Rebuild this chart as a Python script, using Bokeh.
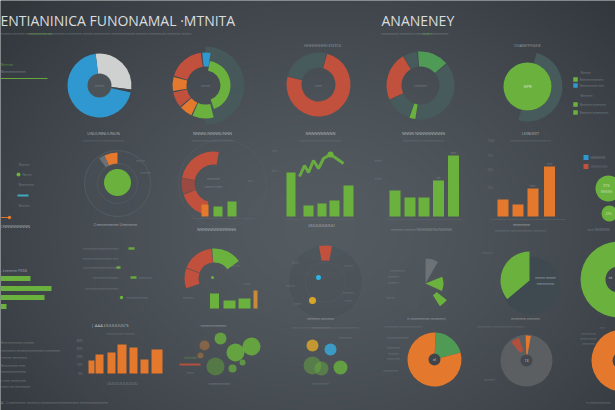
import numpy as np
from bokeh.plotting import figure
from bokeh.models import Range1d, ColumnDataSource
from bokeh.embed import file_html
from bokeh.resources import INLINE
from bokeh.core.properties import value

W, H = 615, 410

# ---------------- data ----------------
title_main = "ENTIANINICA FUNONAMAL \u00b7MTNITA"
title_right = "ANANENEY"

pie1_values = [29, 1.5, 69.5]                 # gray, notch, blue (percent)
donut2_values = [4.7, 18.6, 7.5, 8.3, 6.9, 11.1]  # blue, red, orange, red, orange, green
donut2_inner_values = [41.7]
donut3_values = [75, 25]
donut4_values = [15.3, 38.3, 3.3, 12.5, 23.6, 6.9]
pie5_arc_values = [50]
legend5_labels = ["Nnnnnnnnnnnn", "Nnnnnnnnn nnn", "Nnnnnn nnnnnnn", "Nnnnnn nnnnnnnn"]

ring6_values = [7, 3]
donut7_values = [25, 8.3, 15.3]
donut7_bars = [12, 10, 15]
greenbars8_values = [44, 11, 13, 16, 31]
greenline8_values = [40, 51, 44, 56, 48, 58, 62, 58, 53]
greenbars9_values = [26, 19, 19, 36, 61]
orangebars10_values = [17, 12, 28, 50]
orangebars10_ticks = ["1000", "750", "500", "250"]
bubble11_labels = ["37%", "22%"]
legend11_labels = ["HHHHHH", "HHHHHHH"]

hbars_values = [30, 51, 44, 6]
orangebars12_values = [13, 19, 21, 29, 26, 14, 24]
orangebars12_ticks = ["40%", "30%", "20%", "10%", "0%"]
gauge_values = [16.7, 18.0, 11.1]
gauge_bars = [15, 8, 10, 18]
wedge14_values = [5.6]
fan_values = [13, 8.3, 5.5]
bigpie_values = [36.1, 63.9]
orangepie_values = [20.3, 79.7]
graypie_values = [3.3, 6.1]

bub1_x = [220, 235, 251, 215, 232, 242, 204, 200]
bub1_y = [338, 352, 346, 366, 368, 362, 345, 355]
bub1_r = [6, 9, 9, 9, 4, 3, 5, 3]
bub2_x = [312, 330, 312, 321, 340]
bub2_y = [345, 349, 365, 368, 367]
bub2_r = [6, 6, 9, 7, 7]

# ---------------- style ----------------
BLUE = "#2f98d0"
LGRAY = "#cfd1d1"
RED = "#c1503c"
DRED = "#9a4a40"
ORANGE = "#e4792e"
GREEN = "#6ab23d"
DGREEN = "#4f9a55"
TEAL = "#475a5c"
TXT = "#aeb4b9"
FONT = "Open Sans"

p = figure(width=W, height=H, x_range=Range1d(0, W), y_range=Range1d(0, H),
           output_backend="svg", toolbar_location=None, min_border=0,
           x_axis_location=None, y_axis_location=None)
p.grid.visible = False
p.outline_line_color = None
p.background_fill_color = "#41484e"
p.border_fill_color = "#41484e"


def Y(y):
    return H - y


# background vignette
gh, gw = 205, 308
rr, cc = np.mgrid[0:gh, 0:gw]
xd = (cc + 0.5) / gw * W
yd = H - (rr + 0.5) / gh * H
d = np.sqrt(((xd - 320) / 370) ** 2 + ((yd - 230) / 290) ** 2)
t = np.clip(d, 0, 1.25) / 1.25
t = t ** 1.5
c0 = np.array([84, 91, 97])
c1 = np.array([44, 49, 54])
img = np.empty((gh, gw), dtype=np.uint32)
view = img.view(dtype=np.uint8).reshape((gh, gw, 4))
for k in range(3):
    view[:, :, k] = (c0[k] + (c1[k] - c0[k]) * t).astype(np.uint8)
view[:, :, 3] = 255
p.image_rgba(image=[img], x=0, y=0, dw=W, dh=H)


def ring(cx, cy, r_in, r_out, vals, colors, start, clockwise=True, gap=0.0, alpha=1.0):
    a = start
    s, e = [], []
    for v in vals:
        span = v / 100.0 * 360.0
        if clockwise:
            a0, a1 = a - span, a
            a -= span
        else:
            a0, a1 = a, a + span
            a += span
        s.append(np.radians(a0 + gap))
        e.append(np.radians(a1 - gap))
    src = ColumnDataSource(dict(x=[cx] * len(s), y=[Y(cy)] * len(s), s=s, e=e, c=list(colors)))
    if r_in <= 0:
        p.wedge('x', 'y', radius=r_out, start_angle='s', end_angle='e', fill_color='c',
                line_color=None, fill_alpha=alpha, source=src)
    else:
        p.annular_wedge('x', 'y', inner_radius=r_in, outer_radius=r_out, start_angle='s',
                        end_angle='e', fill_color='c', line_color=None, fill_alpha=alpha, source=src)


def disc(cx, cy, r, color, alpha=1.0, line=None):
    p.circle(x=[cx], y=[Y(cy)], radius=r, fill_color=color, fill_alpha=alpha,
             line_color=line, line_alpha=0.6 if line else 1.0)


texts = {}


def T(x, y, s, size=4.0, color=TXT, align="center", alpha=0.75, style="normal"):
    key = (size, color, align, alpha, style)
    dd = texts.setdefault(key, dict(x=[], y=[], t=[]))
    dd['x'].append(x)
    dd['y'].append(Y(y))
    dd['t'].append(s)


def vbars(xs, vals, bottom, width, color, alpha=1.0):
    p.vbar(x=xs, top=[Y(bottom) + v for v in vals], bottom=Y(bottom), width=width,
           fill_color=color, line_color=None, fill_alpha=alpha)


def hline(x0, x1, y, color="#5d666d", w=1, alpha=0.7):
    p.segment(x0=[x0], y0=[Y(y)], x1=[x1], y1=[Y(y)], line_color=color, line_width=w, line_alpha=alpha)


# ---------------- titles ----------------
T(0, 20, title_main, size=14, color="#e4e7e9", align="left", alpha=0.95)
T(0, 33, "nnnnnn nnnnnn nnnnnnnnnnn nnnnnnnnn nnnnnnnn nnnnn nnnnnnnnn nnnnnnnnnnnn nnnnnn nnnnnnnnn nnnnnnn nnnnn", size=3.2, align="left", alpha=0.5)
T(28, 33, "nnnnnnnnnnnn", size=3.2, color=GREEN, align="left", alpha=0.8)
T(381, 20, title_right, size=14, color="#e4e7e9", align="left", alpha=0.95)
T(381, 33, "nnnnnnnnn nnnnnnn nnnnnnnn nnnnnnnnn", size=3.2, align="left", alpha=0.5)
T(422, 33, "nnnnn", size=3.2, color=GREEN, align="left", alpha=0.8)

# left mini legend
T(0, 64, "Nnnnn", size=4, color=GREEN, align="left")
T(0, 71, "Nnnnnnnnnn", size=4, align="left", alpha=0.6)
hline(0, 47, 78, color=GREEN, w=1.2, alpha=0.9)

# ---------------- row 1 ----------------
ring(99, 85, 0, 32, pie1_values, [LGRAY, "#3e464c", BLUE], 97, clockwise=True)
disc(99, 85, 12, "#4b5358")
T(99, 85, "nnnnn", size=3, alpha=0.5)

ring(205, 85, 19, 39, [50], [TEAL], 90, clockwise=True, alpha=0.85)
ring(205, 85, 19, 33, donut2_values, [BLUE, RED, ORANGE, RED, ORANGE, GREEN], 80, clockwise=False, gap=1.2)
ring(205, 85, 15, 25, donut2_inner_values, [GREEN], 80, clockwise=True)
T(205, 85, "nnnnn", size=3, alpha=0.5)

ring(318, 84, 17, 32, donut3_values, [RED, TEAL], 75, clockwise=True, gap=0.8)
T(318, 85, "nnnn", size=3, alpha=0.5)
T(322, 45, "HHHHHHHH EISTCS", size=4, alpha=0.8)

ring(420, 85, 19, 34, donut4_values, [DGREEN, TEAL, GREEN, TEAL, RED, TEAL], 95, clockwise=True, gap=0.8)
T(420, 85, "nnnnnnn", size=3, alpha=0.5)

ring(527, 86, 24, 35, pie5_arc_values, [TEAL], 75, clockwise=True)
disc(527, 86, 24, GREEN)
T(527, 86, "GPR", size=4, color="#eef2ee", alpha=0.9)
T(527, 45, "CHANIIYFIGEIE", size=4, alpha=0.8)
for yy_, col, lab in zip([79, 85, 104, 112], [GREEN, BLUE, GREEN, GREEN], legend5_labels):
    p.rect(x=[575], y=[Y(yy_)], width=4.5, height=4.5, fill_color=col, line_color=None)
    T(579, yy_, lab, size=3.2, align="left", alpha=0.55)
T(580, 72, "Nnnnn", size=3.2, align="left", alpha=0.5)
T(580, 95, "Nnnnnn", size=3.2, align="left", alpha=0.5)

for xx_, lab in zip([103, 212, 320, 423, 530],
                    ["UNUUNNUUNUN", "NNNNUNNNNUNNN", "NNNNNNNNNN", "NNNN NNNNNNNNNN", "LEINIIIIIIT"]):
    T(xx_, 133, lab, size=4, color="#c3c7ca", alpha=0.85)
    T(xx_, 140, "nnnnnnnnnn nnnnnnnnnnnn", size=3, alpha=0.35)

# ---------------- row 2 ----------------
T(18, 164, "Nnnnn", size=3.5, align="left", alpha=0.5)
disc(18, 174, 2, GREEN)
T(22, 174, "Nnnn", size=3.5, align="left", alpha=0.5)
T(18, 184, "Nnnnnnn", size=3.5, align="left", alpha=0.5)
hline(17, 28, 195, color="#3bb5c9", w=2, alpha=0.9)
T(18, 205, "Nnnnn", size=3.5, align="left", alpha=0.5)
hline(0, 9, 217, color=ORANGE, w=1.2, alpha=0.9)
disc(9, 217, 1.8, ORANGE)
T(0, 226, "CNNNNNNNNN", size=4, color="#c9cdd0", align="left", alpha=0.8)

# ring chart with green core
disc(117, 183, 33, "#474f55", alpha=0.6, line="#5d666d")
p.circle(x=[117], y=[Y(183)], radius=20, fill_color=None, line_color="#5b646b", line_alpha=0.5)
ring(117, 183, 20, 31, ring6_values, [ORANGE, "#6a7075"], 90, clockwise=False)
disc(117, 182, 13.5, GREEN)
T(140, 160, "nnnnn", size=3, alpha=0.4)
T(145, 172, "nnnnnn", size=3, alpha=0.4)
T(115, 224, "Cnnnnnnnnn Unnnnnn", size=4, color="#c3c7ca", alpha=0.8)

# red donut with bars
p.circle(x=[222], y=[Y(183)], radius=44, fill_color=None, line_color="#5a636b", line_alpha=0.45)
ring(213, 183, 19, 32, donut7_values, [RED, DRED, RED], 80, clockwise=False, gap=0.5)
p.vbar(x=[204.5, 217.5, 231.5], top=[Y(216) + v for v in donut7_bars], bottom=Y(216),
       width=[7, 9, 9], fill_color=[ORANGE, GREEN, GREEN], line_color=None)
T(213, 178, "nnnnnnn", size=3, alpha=0.5)
T(213, 186, "nnnnn nnnn", size=3, alpha=0.5)
T(250, 180, "nnn", size=3, alpha=0.4)
hline(192, 255, 218, alpha=0.5)
T(216, 229, "NNNNNNNNNNNNN", size=4, color="#c3c7ca", alpha=0.8)

# green bars with line
p.vbar(x=[290.5, 308, 321.5, 334, 348], top=[Y(216) + v for v in greenbars8_values],
       bottom=Y(216), width=[9, 10, 9, 10, 10], fill_color=GREEN, line_color=None)
line_x = [299, 304, 308, 313, 318, 323, 330, 336, 343]
p.line(x=line_x, y=[Y(216) + v for v in greenline8_values], line_color=GREEN, line_width=3, line_alpha=0.9)
disc(330, 154, 3, GREEN)
T(274, 150, "nnn", size=3, alpha=0.4)
T(274, 170, "nnn", size=3, alpha=0.4)
hline(283, 355, 219, alpha=0.5)
T(321, 225, "UUUUUUUUU", size=4, color="#d0d4d6", alpha=0.85)

# green bars
vbars([394.5, 409.5, 423.5, 438, 453], greenbars9_values, 216, 11, GREEN)
T(453, 152, "nnn", size=3, alpha=0.5)
T(438, 177, "nn", size=3, alpha=0.5)
T(378, 160, "nnnn", size=3, alpha=0.4)
T(378, 178, "nnnn", size=3, alpha=0.4)
hline(385, 462, 219, alpha=0.5)
T(421, 229, "nnnnnn nnnnn NNNNNNNN/NNNNN", size=3.5, alpha=0.6)

# orange bars
vbars([502.5, 517.5, 532.5, 549], orangebars10_values, 216, 11, ORANGE)
for yy_, lab in zip([140, 155, 169, 187], orangebars10_ticks):
    T(487, yy_, lab, size=3, align="left", alpha=0.4)
T(549, 163, "nnn", size=3, alpha=0.5)
T(532, 185, "nnn", size=3, alpha=0.5)
hline(490, 565, 219, alpha=0.5)
T(521, 224, "nnnnnnnn", size=3.5, color="#c3c7ca", alpha=0.8)
T(520, 230, "nnnnnnnn nnnnnnnnnnnn nnnnnnn", size=3, alpha=0.4)

# right legend + circles
p.rect(x=[585.5, 585.5], y=[Y(157), Y(166)], width=5, height=5, fill_color=[BLUE, RED], line_color=None)
T(590, 157, legend11_labels[0], size=3.3, align="left", alpha=0.6)
T(590, 166, legend11_labels[1], size=3.3, align="left", alpha=0.45)
disc(608, 188, 13, GREEN)
disc(609, 213, 8, GREEN)
T(606, 185, bubble11_labels[0], size=3.5, color="#e8efe6", alpha=0.85)
T(606, 191, "NNNNN", size=3, color="#e8efe6", alpha=0.7)
T(608, 213, bubble11_labels[1], size=3, color="#e8efe6", alpha=0.8)
T(598, 229, "nnn NNNNNN", size=3.3, alpha=0.5)

# ---------------- row 3 ----------------
T(0, 270, "- Lnnnnn FSSS", size=4, color="#c3c7ca", align="left", alpha=0.8)
p.hbar(y=[Y(278), Y(288), Y(297), Y(306)], left=0, right=hbars_values, height=5,
       fill_color=GREEN, line_color=None)
for yy_, lab in zip([342, 350, 357, 365, 371, 380, 386],
                    ["Nnnnnnnnnn nnnnn", "nnnnnnn nnnnnnnnnnnnn nnnnnnn", "nnnnn nnnnnnn",
                     "Nnnnnnnn nnn", "nnnnnnnnnnnn", "n nnn nnnnnnn", "nnnn nn nnnnnnn"]):
    T(0, yy_, lab, size=3.5, align="left", alpha=0.55)
T(0, 402, "AL.    Cnnnnnnnn nnnnnn nnnnnnnnnnnnnnnnnn nnnnnnnnnnnnn", size=3.5, align="left", alpha=0.55)

for yy_, lab in zip([248, 258, 267, 277, 288],
                    ["nnnnnnnnnnnnnnnnnn", "nnnnnnnnnnnnnnn nnn", "nnnnnnnnnnnnnnnnnn",
                     "nnnnnnnnnnnnn", "nnnnnnnnnnnnnnnnn"]):
    T(118, yy_, lab, size=3.2, align="right", alpha=0.45)
p.rect(x=[131, 118, 133], y=[Y(248), Y(267), Y(277)], width=[6, 4, 6], height=2.5,
       fill_color=GREEN, line_color=None, fill_alpha=0.9)
T(138, 277, "nnnnnnn", size=3.2, align="left", alpha=0.45)
disc(121, 297, 1.8, GREEN)
T(126, 297, "nnnnnnnnnnn", size=3.2, align="left", alpha=0.45)

# orange bars row 3
T(110, 325, "|  AAA UUUUUUU'S", size=4.2, color="#d0d4d6", alpha=0.85)
T(120, 333, "nnnnnnnnn nnnnnn", size=3, alpha=0.4)
p.vbar(x=[91, 99, 111, 121.5, 133, 144, 156.5], top=[Y(373) + v for v in orangebars12_values],
       bottom=Y(373), width=[6, 8, 8, 9, 8, 8, 11], fill_color=ORANGE, line_color=None)
for yy_, lab in zip([340, 348, 356, 364, 373], orangebars12_ticks):
    T(82, yy_, lab, size=3, align="right", alpha=0.5)
T(122, 383, "UUUUUUUUUUU", size=3.8, alpha=0.6)

# gauge
ring(214, 278, 16, 30, gauge_values, [GREEN, RED, RED], 35, clockwise=False, gap=0.7)
disc(212, 277, 1.5, GREEN)
p.vbar(x=[214, 229, 244, 255], top=[Y(308) + v for v in gauge_bars], bottom=Y(308),
       width=[9, 12, 12, 4], fill_color=[GREEN, GREEN, GREEN, "#c98a3a"], line_color=None)
T(188, 297, "nnnnnn", size=3, alpha=0.4)
T(247, 283, "nnnn", size=3, alpha=0.4)
T(235, 265, "nnnnn", size=3, alpha=0.4)

# wedge chart with red slice
p.circle(x=[325], y=[Y(282)], radius=37, fill_color="#474f55", fill_alpha=0.4, line_color="#58626a", line_alpha=0.4)
p.circle(x=[325], y=[Y(282)], radius=20, fill_color=None, line_color="#58626a", line_alpha=0.4)
ring(325, 282, 22, 37, wedge14_values, [RED], 80, clockwise=False)
disc(318, 277, 2.5, "#2db4e2")
disc(312, 300, 3.5, "#d8a52b")
for xx_, yy_, lab in [(295, 262, "nnnn"), (290, 285, "nnnnn"), (297, 303, "nnnn"),
                      (348, 265, "nnnnn"), (348, 292, "nnnnnn"), (348, 300, "nnnn")]:
    T(xx_, yy_, lab, size=3, alpha=0.35)
T(320, 318, "nnnnnn nnnnnn", size=3.5, color="#c3c7ca", alpha=0.7)
T(335, 327, "nnnnnnn nnnnnnnnnnnnnnnnnn", size=3, alpha=0.35)

# fan chart
ring(425, 283, 0, 30, [42], ["#4f575d"], 100, clockwise=False, alpha=0.7)
ring(425, 283, 0, 25, [fan_values[1]], ["#6c7276"], 60, clockwise=False)
ring(425, 283, 0, 18, [fan_values[0]], [GREEN], 22, clockwise=True)
ring(425, 283, 14, 27, [fan_values[2]], [GREEN], -38, clockwise=True)
for xx_, yy_, lab in [(397, 270, "nnnnnnnn"), (393, 276, "nnnnnn"), (393, 282, "nnnnnn"), (390, 297, "nnnnn")]:
    T(xx_, yy_, lab, size=3, alpha=0.4)
T(426, 318, "n nnnnnnnnn nnnnnnn", size=3.5, color="#c3c7ca", alpha=0.7)
T(403, 326, "nnnnnnnn nnnnnnnnnnnn", size=3, alpha=0.35)

# big green pie
disc(530, 285, 29, "#3f4a50")
ring(529, 280, 0, 29, [bigpie_values[0]], [GREEN], 90, clockwise=False)
T(545, 277, "nnnnn nnnnn", size=3.2, color="#d5d9db", alpha=0.7)
T(545, 283, "nnnnnnnnn", size=3.2, color="#d5d9db", alpha=0.7)
T(525, 318, "nnnnnnn nnnnnn", size=3.5, color="#c3c7ca", alpha=0.7)
T(500, 326, "nnnnnnnn nnnnnnnnnnnn nnnnn", size=3, alpha=0.35)
T(487, 252, "nnnnnn", size=3, alpha=0.35)

# right green donut
ring(618, 279, 13, 38, [100], [GREEN], 90)
T(610, 277, "nt", size=3.5, color="#e8efe6", alpha=0.8)

# bubbles 1
p.circle(x=bub1_x, y=[Y(v) for v in bub1_y], radius=bub1_r,
         fill_color=[GREEN, GREEN, GREEN, "#5e9d3a", GREEN, GREEN, "#c07a3a", "#c07a3a"],
         fill_alpha=[0.8, 0.85, 0.85, 0.55, 0.7, 0.7, 0.5, 0.5], line_color=None)
hline(179, 200, 364, color=RED, w=2, alpha=0.9)
T(190, 357, "nnnnnnn", size=3, color=GREEN, alpha=0.7)
T(190, 372, "nnnn", size=3, alpha=0.4)
T(213, 325, "nnnnnnnnnnnn", size=3.5, color="#c3c7ca", alpha=0.7)
T(219, 383, "nnnnnnnnnnn", size=3.2, alpha=0.5)

# bubbles 2
p.circle(x=bub2_x, y=[Y(v) for v in bub2_y], radius=bub2_r,
         fill_color=["#d8a52b", "#38a8d8", GREEN, GREEN, GREEN],
         fill_alpha=[0.85, 0.85, 0.45, 0.45, 0.8], line_color=None)
T(345, 337, "nnnnnnn", size=3, alpha=0.4)
T(320, 383, "nnnnnnnnn", size=3, alpha=0.4)
T(310, 327, "nnnnnnnnnnnnnnnnnnnnn", size=3, alpha=0.3)

# orange pie
ring(434, 359, 0, 27, orangepie_values, [DGREEN, ORANGE], 88, clockwise=True)
disc(434, 359, 6, "#3f464b")
T(434, 359, "el", size=3.5, color="#e0e4e6", alpha=0.9)
for xx_, yy_, lab in [(397, 337, "nnnnnnnnnnnn"), (393, 347, "nnnnnnn"), (393, 353, "nnnnnn"),
                      (393, 358, "nnnnnnn"), (390, 370, "nnnnnnnn")]:
    T(xx_, yy_, lab, size=3, alpha=0.4)

# gray pie
disc(526, 360, 26, "#5c5f62")
ring(526, 360, 5, 25, [graypie_values[0]], [ORANGE], 80, clockwise=False)
ring(526, 360, 10, 24, [graypie_values[1]], ["#b0503d"], 108, clockwise=False)
disc(526, 360, 6, "#42484d")
T(526, 360, "13", size=3.5, color="#e0e4e6", alpha=0.9)
T(489, 379, "nnnnnn", size=3, alpha=0.4)

# far right orange
disc(622, 360, 31, ORANGE)
disc(620, 360, 8, "#42484d")
for yy_, lab in [(333, "nnnnnnnn"), (338, "nnnnnnnnn"), (343, "nnnnnnn")]:
    T(588, yy_, lab, size=3, alpha=0.45)
T(602, 327, "nnn", size=3, alpha=0.4)
T(598, 402, "n nnnnnnnnnn", size=3.5, alpha=0.5)

# ---------------- text batches ----------------
for (size, color, align, alpha, style), dd in texts.items():
    p.text(x=dd['x'], y=dd['y'], text=dd['t'],
           text_font=value(FONT), text_font_size=f"{size}px", text_color=color,
           text_alpha=alpha, text_align=align, text_baseline="middle", text_font_style=style)

open("out.html", "w").write(file_html(p, INLINE))
